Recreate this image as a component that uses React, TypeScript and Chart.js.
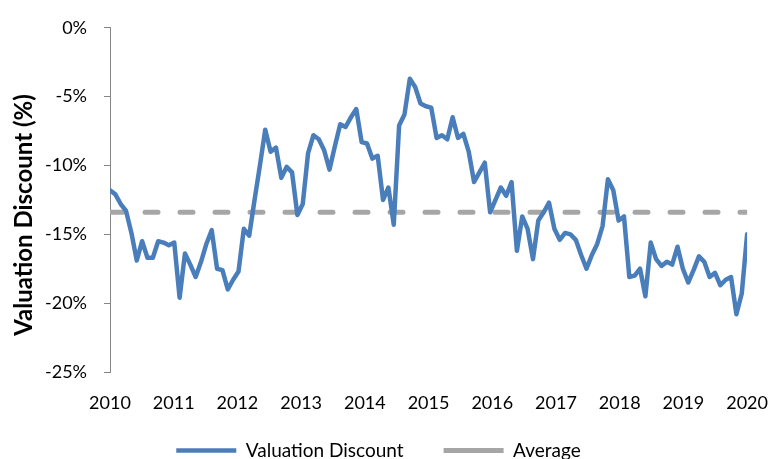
import React, { useEffect, useRef } from "react";
import { Chart, registerables } from "chart.js";

Chart.register(...registerables);

const startYear = 2010;
const endYear = 2020;
const yearTicks = [2010, 2011, 2012, 2013, 2014, 2015, 2016, 2017, 2018, 2019, 2020];
const percentTicks = [0, -5, -10, -15, -20, -25];

// Monthly valuation discount (%)
const discount = [
  -11.8, -12.1, -12.8, -13.3, -14.9, -16.9, -15.5, -16.7, -16.7, -15.5,
  -15.6, -15.8, -15.6, -19.6, -16.4, -17.2, -18.1, -17.0, -15.7, -14.7,
  -17.5, -17.6, -19.0, -18.3, -17.7, -14.6, -15.1, -12.5, -10.0, -7.4,
  -9.0, -8.7, -10.9, -10.1, -10.5, -13.6, -12.8, -9.1, -7.8, -8.1,
  -8.9, -10.3, -8.6, -7.0, -7.2, -6.5, -5.9, -8.3, -8.4, -9.5,
  -9.3, -12.5, -11.6, -14.3, -7.1, -6.3, -3.7, -4.3, -5.5, -5.7,
  -5.8, -8.0, -7.8, -8.1, -6.5, -8.0, -7.7, -9.0, -11.2, -10.5,
  -9.8, -13.4, -12.5, -11.6, -12.2, -11.2, -16.2, -13.7, -14.6, -16.8,
  -14.0, -13.4, -12.7, -14.6, -15.4, -14.9, -15.0, -15.4, -16.5, -17.5,
  -16.5, -15.7, -14.4, -11.0, -11.8, -14.0, -13.7, -18.1, -18.0, -17.5,
  -19.5, -15.6, -16.8, -17.3, -17.0, -17.2, -15.9, -17.5, -18.5, -17.6,
  -16.6, -17.0, -18.1, -17.8, -18.7, -18.3, -18.1, -20.8, -19.3, -15.0,
];
const averageDiscount = -13.4;

const seriesLabel = "Valuation Discount";
const averageLabel = "Average";
const yAxisTitle = "Valuation Discount (%)";

const family = "Lato, 'Open Sans', sans-serif";

// keeps the bottom legend compact so the plot area matches the reference
const fixedLegendHeight = {
  id: "fixedLegendHeight",
  afterInit(chart: any, _args: any, opts: any) {
    const legend = chart.legend;
    if (!legend) return;
    const fit = legend.fit.bind(legend);
    legend.fit = () => {
      fit();
      legend.height = opts.height;
    };
    const draw = legend.draw.bind(legend);
    legend.draw = (area: any) => {
      const top = legend.top;
      legend.top = top + opts.dy;
      draw(area);
      legend.top = top;
    };
  },
};

// rotated y-axis title placed like the reference
const yTitle = {
  id: "yTitle",
  afterDraw(chart: any, _args: any, opts: any) {
    const ctx = chart.ctx;
    ctx.save();
    ctx.translate(opts.x, opts.y);
    ctx.rotate(-Math.PI / 2);
    ctx.font = `bold ${opts.size}px ${family}`;
    ctx.fillStyle = "#000";
    ctx.textAlign = "center";
    ctx.textBaseline = "middle";
    ctx.fillText(opts.text, 0, 0);
    ctx.restore();
  },
};

export default function App() {
  const ref = useRef<HTMLCanvasElement>(null);

  useEffect(() => {
    if (!ref.current) return;
    const n = discount.length;
    const step = (endYear - startYear) / (n - 1);
    const seriesPoints = discount.map((v, i) => ({ x: startYear + i * step, y: v }));
    const averagePoints = [
      { x: startYear, y: averageDiscount },
      { x: endYear, y: averageDiscount },
    ];
    Chart.defaults.font.family = family;
    Chart.defaults.color = "#000";

    const chart = new Chart(ref.current, {
      type: "line",
      data: {
        datasets: [
          {
            label: seriesLabel,
            data: seriesPoints,
            borderColor: "#4A7EBB",
            backgroundColor: "#4A7EBB",
            borderWidth: 4.5,
            pointRadius: 0,
            tension: 0,
            borderJoinStyle: "round",
            borderCapStyle: "round",
          },
          {
            label: averageLabel,
            data: averagePoints,
            borderColor: "#A6A6A6",
            backgroundColor: "#A6A6A6",
            borderWidth: 5,
            borderDash: [13, 22],
            borderCapStyle: "round",
            pointRadius: 0,
          },
        ],
      },
      options: {
        animation: false,
        responsive: false,
        layout: { padding: { left: 0, right: 23, top: 22, bottom: 0 } },
        scales: {
          x: {
            type: "linear",
            min: startYear,
            max: endYear,
            afterBuildTicks: (s: any) => {
              s.ticks = yearTicks.map((v) => ({ value: v }));
            },
            afterFit: (s: any) => {
              s.height = 42;
            },
            ticks: {
              callback: (v: any) => String(v),
              font: { size: 18 },
              color: "#000",
              padding: 12,
              maxRotation: 0,
              autoSkip: false,
            },
            grid: { display: false },
            border: { display: false },
          },
          y: {
            type: "linear",
            min: -25,
            max: 0,
            afterBuildTicks: (s: any) => {
              s.ticks = percentTicks.map((v) => ({ value: v }));
            },
            afterFit: (s: any) => {
              s.width = 110;
            },
            ticks: {
              callback: (v: any) => v + "%",
              font: { size: 18 },
              color: "#000",
              padding: 17,
            },
            grid: {
              drawOnChartArea: false,
              color: "#868686",
              tickLength: 6,
            },
            border: { display: true, color: "#868686", width: 1 },
          },
        },
        plugins: {
          legend: {
            position: "bottom",
            labels: {
              usePointStyle: true,
              pointStyle: "line",
              pointStyleWidth: 60,
              font: { size: 19 },
              color: "#000",
              padding: 40,
            },
          },
          tooltip: { enabled: false },
          fixedLegendHeight: { height: 45, dy: -13 },
          yTitle: { text: yAxisTitle, x: 24, y: 215, size: 24 },
        },
      },
      plugins: [fixedLegendHeight, yTitle],
    } as any);
    return () => chart.destroy();
  }, []);

  return (
    <div style={{ position: "absolute", left: 0, top: 0, width: 780, height: 459 }}>
      <canvas ref={ref} width={780} height={459} style={{ width: 780, height: 459 }} />
    </div>
  );
}
